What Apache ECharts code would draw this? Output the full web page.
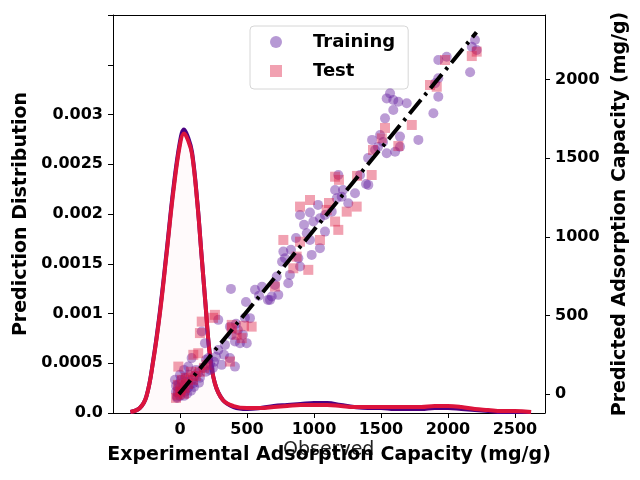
<!DOCTYPE html>
<html>
<head>
<meta charset="utf-8">
<script src="https://cdn.jsdelivr.net/npm/echarts@6/dist/echarts.min.js"></script>
<style>
  html, body { margin: 0; padding: 0; background: #fff; }
  #chart { width: 640px; height: 480px; }
</style>
</head>
<body>
<div id="chart"></div>
<script>
// KDE curves (x = capacity, y = density)
var kdeX = [-370, -300, -250, -200, -150, -100, -50, 0, 30, 60, 90, 130, 160, 190, 220, 260, 320, 400, 500,
  600, 700, 800, 900, 1000, 1100, 1200, 1300, 1400, 1500, 1600, 1700, 1800, 1900, 2000, 2100, 2200, 2300, 2400, 2500, 2620];
var kdeTest = [0.00001, 0.00005, 0.00017, 0.00052, 0.00100, 0.00160, 0.00222, 0.00270, 0.00281, 0.00274, 0.00260, 0.00210,
  0.00160, 0.00110, 0.00062, 0.00030, 0.00013, 0.00007, 0.00005, 0.00005, 0.00006, 0.00007, 0.00008, 0.00008, 0.00008,
  0.00007, 0.00006, 0.00006, 0.00006, 0.00006, 0.00006, 0.00006, 0.00007, 0.00007, 0.00006, 0.00004, 0.00003, 0.00002, 0.00002, 0.00001];
var kdeTrain = [0.00001, 0.00005, 0.00017, 0.00053, 0.00102, 0.00162, 0.00225, 0.00273, 0.00285, 0.00277, 0.00262, 0.00211,
  0.00160, 0.00110, 0.00062, 0.00030, 0.00013, 0.00006, 0.00004, 0.00005, 0.00007, 0.00008, 0.00009, 0.00010, 0.00010,
  0.00008, 0.00006, 0.00005, 0.00005, 0.00004, 0.00004, 0.00004, 0.00005, 0.00005, 0.00004, 0.00003, 0.00002, 0.00001, 0.00001, 0.00001];

// scatter [experimental, predicted]
var trainPts = [
  [2289, 2251], [2302, 2187], [2264, 2208], [2070, 2145], [2005, 2124], [2251, 2046], [2005, 2008], [1980, 1976],
  [2005, 1891], [1967, 1785], [1851, 1616], [1709, 1637], [1657, 1870], [1606, 1880], [1696, 1859], [1761, 1849],
  [1657, 1806], [1593, 1753], [1606, 1531], [1671, 1541], [1709, 1573], [1632, 1912], [1493, 1616], [1516, 1552],
  [1462, 1501], [1400, 1393], [1446, 1336], [1555, 1647], [1578, 1603], [1539, 1571],
  [1232, 1393], [1464, 1330], [1361, 1277], [1258, 1255], [1220, 1245], [1309, 1213], [936, 1139], [1013, 1154],
  [1039, 1097], [1090, 1118], [1129, 1139], [1181, 1160], [1129, 1033], [988, 1023], [1013, 980], [1090, 928],
  [1026, 885], [807, 906], [820, 864], [923, 864], [936, 811], [858, 758], [845, 705], [756, 747], [742, 694],
  [717, 620], [768, 631], [1207, 1298], [1268, 1298], [967, 1076], [1075, 1203], [905, 993], [866, 917], [797, 841], [688, 599],
  [704, 599], [549, 483], [304, 472], [394, 429], [176, 398], [201, 324], [408, 377], [472, 324], [524, 324], [433, 334],
  [304, 281], [394, 229], [433, 175], [330, 186], [227, 229], [98, 229], [72, 175], [8, 123], [46, 102], [111, 70],
  [-5, 38], [-31, 91], [402, 669], [588, 663], [642, 682], [619, 625], [518, 586], [510, 485], [441, 447], [456, 408],
  [495, 377], [356, 313], [348, 250], [271, 205], [240, 154],
  [-15, -24], [-8, 8], [-23, 15], [8, -11], [23, 27], [46, 15], [31, 53], [70, 40], [85, 59], [54, 78], [101, 91],
  [124, 116], [147, 135], [162, 104], [131, 154], [186, 167], [209, 142], [77, 123], [0, 65], [-23, 53], [15, 91],
  [-15, -17], [39, -11], [62, 2], [93, 21], [116, 46], [155, 72], [240, 193], [263, 167], [209, 218], [286, 237], [39, 154]
];
var testPts = [
  [2057, 2124], [2264, 2149], [2302, 2177], [1941, 1965], [1993, 1954], [1800, 1711], [1696, 1577], [1568, 1626],
  [1377, 1387], [1593, 1692], [1500, 1552], [1207, 1382], [1490, 1393], [1013, 1234], [936, 1192], [1142, 1171],
  [1297, 1160], [1374, 1192], [1207, 1097], [1232, 1044], [1090, 980], [807, 980], [936, 969], [910, 874], [884, 800],
  [1000, 790], [742, 684], [1237, 1362], [1160, 1215],
  [278, 504], [176, 461], [162, 388], [562, 429], [408, 440], [446, 377], [485, 356], [149, 260], [111, 250],
  [-5, 175], [394, 207], [214, 186], [408, 419], [503, 434], [263, 485],
  [-8, -4], [15, 27], [46, 40], [70, 65], [108, 91], [131, 116], [162, 142], [193, 167], [-8, 59], [23, 91],
  [93, 142], [54, 104], [8, 15], [39, 2], [-23, -24]
];
var idealLine = [[0, 0], [2300, 2300]];

var yTickLabels = ['0.0', '0.0005', '0.001', '0.0015', '0.002', '0.0025', '0.003'];

var chart = echarts.init(document.getElementById('chart'));
var font = 'DejaVu Sans';

function pairs(xs, ys) {
  return xs.map(function (x, i) { return [x, ys[i]]; });
}

var tickLabel = { fontFamily: font, fontWeight: 'bold', fontSize: 16, color: '#000' };
var titleStyle = { fontFamily: font, fontWeight: 'bold', fontSize: 19, color: '#000' };

var option = {
  animation: false,
  textStyle: { fontFamily: font },
  grid: { left: 113, right: 95, top: 15, bottom: 67 },
  legend: {
    left: 250, top: 26,
    orient: 'vertical',
    data: [
      { name: 'Training', icon: 'circle', itemStyle: { color: '#a47fc9' } },
      { name: 'Test', icon: 'rect', itemStyle: { color: '#ee8a9e' } }
    ],
    itemWidth: 12, itemHeight: 12, itemGap: 11,
    padding: [7, 13, 9, 20],
    borderColor: '#d6d6d6', borderWidth: 1, borderRadius: 4,
    textStyle: { fontFamily: font, fontWeight: 'bold', fontSize: 18, color: '#000', padding: [0, 0, 0, 26] }
  },
  xAxis: [{
    type: 'value', min: -500, max: 2724, interval: 500,
    name: 'Experimental Adsorption Capacity (mg/g)', nameLocation: 'middle', nameGap: 33,
    nameTextStyle: titleStyle,
    axisLine: { onZero: false, lineStyle: { color: '#000', width: 1 } },
    axisTick: { length: 5, lineStyle: { color: '#000' } },
    axisLabel: Object.assign({ showMinLabel: false, showMaxLabel: false, margin: 9,
      formatter: function (v) { return String(v); } }, tickLabel),
    splitLine: { show: false }
  }, {
    type: 'value', min: -510, max: 2830, position: 'top',
    axisLine: { show: true, onZero: false, lineStyle: { color: '#000', width: 1 } },
    axisTick: { show: false }, axisLabel: { show: false }, splitLine: { show: false }
  }],
  yAxis: [{
    type: 'value', min: 0, max: 0.004, interval: 0.0005,
    name: 'Prediction Distribution', nameLocation: 'middle', nameGap: 79,
    nameTextStyle: titleStyle,
    axisLine: { show: true, onZero: false, lineStyle: { color: '#000' } },
    axisTick: { show: true, length: 5, lineStyle: { color: '#000' } },
    axisLabel: Object.assign({
      margin: 10,
      formatter: function (v) {
        var i = Math.round(v / 0.0005);
        return yTickLabels[i] || '';
      }
    }, tickLabel),
    splitLine: { show: false }
  }, {
    type: 'value', min: -120, max: 2410, splitNumber: 5, position: 'right',
    name: 'Predicted Adsorption Capacity (mg/g)', nameLocation: 'middle', nameGap: 61,
    nameTextStyle: titleStyle,
    axisLine: { show: true, onZero: false, lineStyle: { color: '#000' } },
    axisTick: { show: true, length: 5, lineStyle: { color: '#000' } },
    axisLabel: Object.assign({ showMinLabel: false, showMaxLabel: false, margin: 10,
      formatter: function (v) { return String(v); } }, tickLabel),
    splitLine: { show: false }
  }],
  graphic: [{
    type: 'text', left: 283, top: 441,
    style: { text: 'Observed', font: '19px "DejaVu Sans"', fill: '#222' }
  }],
  series: [{
    name: 'Training KDE', type: 'line', xAxisIndex: 0, yAxisIndex: 0,
    data: pairs(kdeX, kdeTrain), smooth: 0.4, showSymbol: false, z: 2,
    lineStyle: { color: '#4b0082', width: 4 },
    areaStyle: { color: 'rgba(220, 20, 60, 0.015)' }
  }, {
    name: 'Test KDE', type: 'line', xAxisIndex: 0, yAxisIndex: 0,
    data: pairs(kdeX, kdeTest), smooth: 0.4, showSymbol: false, z: 3,
    lineStyle: { color: '#dc143c', width: 4 },
    areaStyle: { color: 'rgba(220, 20, 60, 0.015)' }
  }, {
    name: 'Training', type: 'scatter', xAxisIndex: 1, yAxisIndex: 1,
    data: trainPts, symbol: 'circle', symbolSize: 10, z: 4,
    itemStyle: { color: 'rgba(100, 30, 160, 0.55)' }
  }, {
    name: 'Test', type: 'scatter', xAxisIndex: 1, yAxisIndex: 1,
    data: testPts, symbol: 'rect', symbolSize: 10, z: 5,
    itemStyle: { color: 'rgba(220, 20, 60, 0.5)' }
  }, {
    name: 'Ideal', type: 'line', xAxisIndex: 1, yAxisIndex: 1,
    data: idealLine, showSymbol: false, z: 6,
    lineStyle: { color: '#000', width: 4, type: [18, 6, 3, 6] }
  }]
};

chart.setOption(option);
</script>
</body>
</html>
